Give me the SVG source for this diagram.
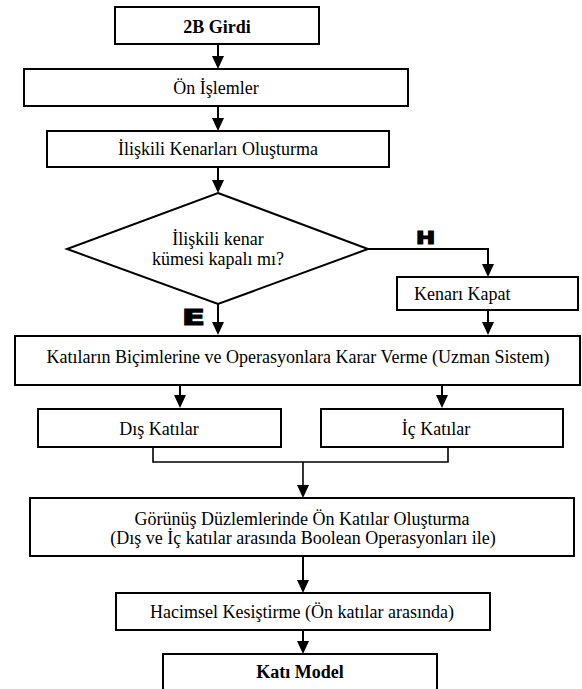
<svg xmlns="http://www.w3.org/2000/svg" width="582" height="689" viewBox="0 0 582 689">
<style>
.box{fill:#fff;stroke:#000;stroke-width:2}
.t{font-family:"Liberation Serif","Times New Roman",serif;font-size:18px;fill:#000;text-anchor:middle}
.b{font-weight:bold}
.l{text-anchor:start}
.c{fill:none;stroke:#000;stroke-width:2}
.m{fill:none;stroke:#000;stroke-width:1.6}
.yn{font-family:"DejaVu Sans",sans-serif;font-weight:bold;fill:#000;stroke:#000;stroke-width:1.2}
</style>
<defs>
<marker id="ah" viewBox="0 0 13 12" refX="7" refY="6" markerWidth="13" markerHeight="12" markerUnits="userSpaceOnUse" orient="auto">
<path d="M0,0 L13,6 L0,12 z" fill="#000"/>
</marker>
</defs>
<rect width="582" height="689" fill="#fff"/>
<g id="connectors">
<line class="c" x1="218" y1="44" x2="218" y2="63" marker-end="url(#ah)"/>
<line class="c" x1="218" y1="106" x2="218" y2="125" marker-end="url(#ah)"/>
<line class="c" x1="218" y1="167" x2="218" y2="187" marker-end="url(#ah)"/>
<line class="c" x1="218" y1="304" x2="218" y2="329" marker-end="url(#ah)"/>
<polyline class="c" points="368,249 488,249 488,271" marker-end="url(#ah)"/>
<line class="c" x1="488" y1="310" x2="488" y2="329" marker-end="url(#ah)"/>
<line class="c" x1="180" y1="385" x2="180" y2="402" marker-end="url(#ah)"/>
<line class="c" x1="442" y1="385" x2="442" y2="402" marker-end="url(#ah)"/>
<polyline class="m" points="153,447 153,462 448,462 448,447"/>
<line class="m" x1="303" y1="462" x2="303" y2="492" marker-end="url(#ah)"/>
<line class="c" x1="303" y1="556" x2="303" y2="587" marker-end="url(#ah)"/>
<line class="c" x1="303" y1="630" x2="303" y2="648" marker-end="url(#ah)"/>
<text class="yn" font-size="17" transform="translate(416,243.5) scale(1.35,1)">H</text>
<text class="yn" font-size="21" transform="translate(182,324.5) scale(1.6,1)">E</text>
</g>
<g id="n1"><rect class="box" x="115" y="7" width="204" height="37"/><text class="t b" x="217" y="33">2B Girdi</text></g>
<g id="n2"><rect class="box" x="24" y="69" width="384" height="37"/><text class="t" x="216" y="94">Ön İşlemler</text></g>
<g id="n3"><rect class="box" x="47" y="131" width="342" height="36"/><text class="t" x="218" y="155">İlişkili Kenarları Oluşturma</text></g>
<g id="n4"><polygon class="box" points="218,193 368,249 218,304 67,249"/><text class="t" x="218" y="245">İlişkili kenar</text><text class="t" x="218" y="265">kümesi kapalı mı?</text></g>
<g id="n5"><rect class="box" x="397" y="277" width="181" height="33"/><text class="t l" x="414" y="300">Kenarı Kapat</text></g>
<g id="n6"><rect class="box" x="15" y="336" width="565" height="49"/><text class="t" x="298" y="363">Katıların Biçimlerine ve Operasyonlara Karar Verme (Uzman Sistem)</text></g>
<g id="n7"><rect class="box" x="38" y="409" width="243" height="38"/><text class="t" x="159" y="435">Dış Katılar</text></g>
<g id="n8"><rect class="box" x="321" y="409" width="242" height="38"/><text class="t" x="436" y="435">İç Katılar</text></g>
<g id="n9"><rect class="box" x="30" y="498" width="544" height="58"/><text class="t" x="302" y="525">Görünüş Düzlemlerinde Ön Katılar Oluşturma</text><text class="t" x="303" y="544">(Dış ve İç katılar arasında Boolean Operasyonları ile)</text></g>
<g id="n10"><rect class="box" x="116" y="593" width="374" height="37"/><text class="t" x="302" y="618">Hacimsel Kesiştirme (Ön katılar arasında)</text></g>
<g id="n11"><rect class="box" x="163" y="654" width="274" height="40"/><text class="t b" x="300" y="678">Katı Model</text></g>
</svg>
